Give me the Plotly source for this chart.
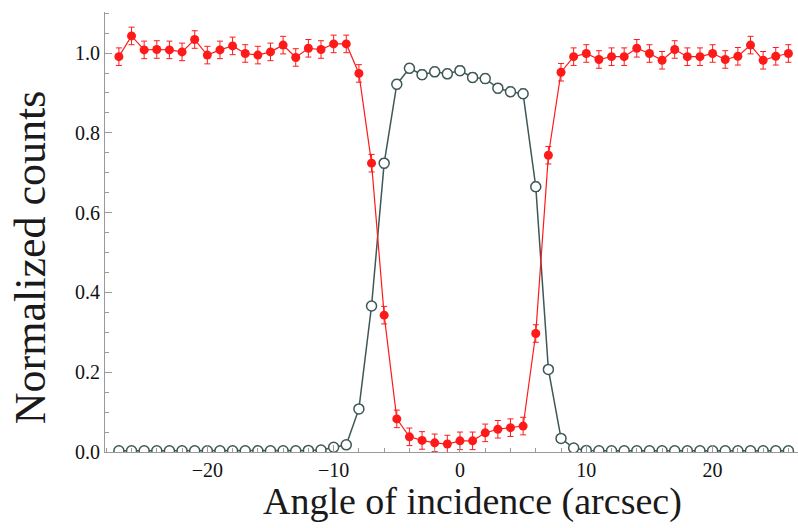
import plotly.graph_objects as go

angles = list(range(-27, 27))

red_counts = [0.991, 1.043, 1.008, 1.009, 1.008, 1.003, 1.034, 0.995, 1.008, 1.018,
              0.999, 0.995, 1.003, 1.020, 0.989, 1.012, 1.009, 1.023, 1.023, 0.949,
              0.724, 0.343, 0.083, 0.038, 0.029, 0.023, 0.020, 0.028, 0.028, 0.048,
              0.057, 0.061, 0.065, 0.297, 0.744, 0.952, 0.991, 0.999, 0.984, 0.991,
              0.991, 1.012, 0.999, 0.982, 1.009, 0.991, 0.991, 0.999, 0.984, 0.992,
              1.020, 0.982, 0.992, 0.999]
red_err = [0.022] * 54

gray_counts = [0.003, 0.003, 0.003, 0.003, 0.003, 0.003, 0.003, 0.003, 0.003, 0.003,
               0.003, 0.003, 0.003, 0.003, 0.003, 0.004, 0.005, 0.012, 0.018, 0.108,
               0.366, 0.724, 0.922, 0.962, 0.946, 0.953, 0.948, 0.956, 0.939, 0.936,
               0.912, 0.903, 0.898, 0.665, 0.207, 0.034, 0.010, 0.004, 0.003, 0.003,
               0.003, 0.003, 0.003, 0.003, 0.003, 0.003, 0.003, 0.003, 0.003, 0.003,
               0.003, 0.003, 0.003, 0.003]
gray_err = [0.004] * 18 + [0.008] * 3 + [0.012] * 13 + [0.008] * 3 + [0.004] * 17

x_ticks = [-20, -10, 0, 10, 20]
y_ticks = [0.0, 0.2, 0.4, 0.6, 0.8, 1.0]

RED = "#ff1a1a"
GRAY = "#3e5757"
FONT = "Liberation Serif"

fig = go.Figure()
fig.add_trace(go.Scatter(
    x=angles, y=gray_counts, mode="lines+markers",
    line=dict(color=GRAY, width=1.5),
    marker=dict(symbol="circle", size=10, color="white", line=dict(color=GRAY, width=1.5)),
    error_y=dict(type="data", array=gray_err, color=GRAY, thickness=1, width=3),
    showlegend=False,
))
fig.add_trace(go.Scatter(
    x=angles, y=red_counts, mode="lines+markers",
    line=dict(color=RED, width=1.2),
    marker=dict(symbol="circle", size=9, color=RED),
    error_y=dict(type="data", array=red_err, color=RED, thickness=1, width=3),
    showlegend=False,
))

axis_common = dict(
    showline=True, linecolor="#9a9a9a", linewidth=1.2,
    showgrid=False, zeroline=False, mirror=False,
    ticks="inside", tickcolor="#9a9a9a", ticklen=7, tickwidth=1,
    tickfont=dict(family=FONT, size=20, color="#111111"),
)

fig.update_xaxes(
    range=[-28.1, 26.76], tickvals=x_ticks,
    minor=dict(dtick=2, tick0=0, ticks="inside", ticklen=4, tickcolor="#9a9a9a"),
    **axis_common,
)
fig.update_yaxes(
    range=[0, 1.103], tickvals=y_ticks, tickformat=".1f",
    minor=dict(dtick=0.05, tick0=0, ticks="inside", ticklen=4, tickcolor="#9a9a9a"),
    **axis_common,
)

fig.add_annotation(
    text="Angle of incidence (arcsec)", xref="paper", yref="paper",
    x=0.53, y=-0.112, xanchor="center", yanchor="middle", showarrow=False,
    font=dict(family=FONT, size=38, color="#1a1a1a"),
)
fig.add_annotation(
    text="Normalized counts", xref="paper", yref="paper",
    x=-0.108, y=0.443, xanchor="center", yanchor="middle", showarrow=False,
    textangle=-90, font=dict(family=FONT, size=44, color="#1a1a1a"),
)

fig.update_layout(
    width=798, height=528,
    margin=dict(l=105, r=0, t=12, b=76, autoexpand=False),
    plot_bgcolor="white", paper_bgcolor="white",
)

fig.write_html(
    "out.html",
    config={"displayModeBar": False},
    post_script="document.body.style.margin='0px'; document.body.style.overflow='hidden';",
)
